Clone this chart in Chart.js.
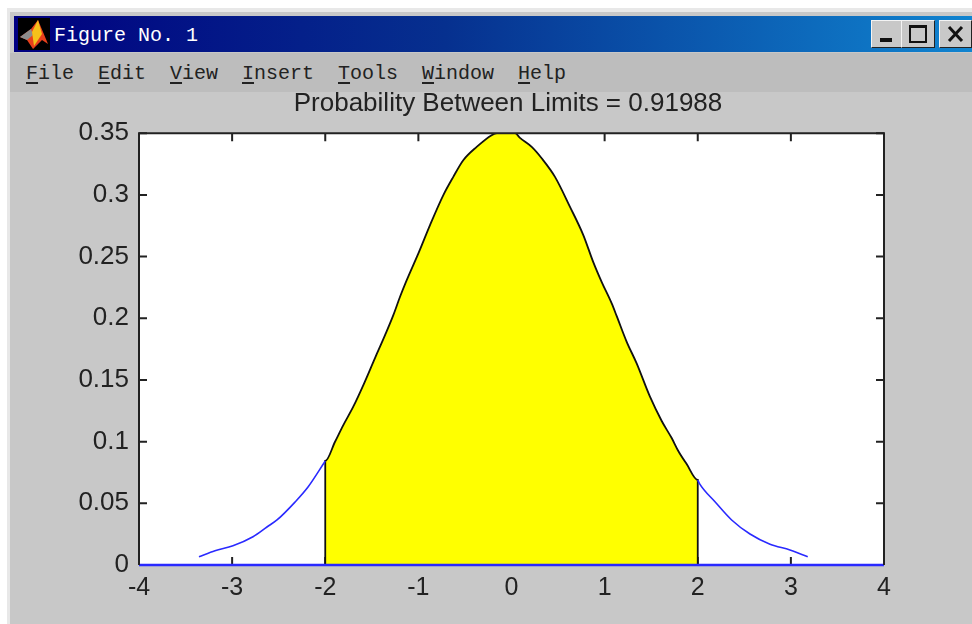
<!DOCTYPE html>
<html>
<head>
<meta charset="utf-8">
<title>Figure No. 1</title>
<script src="https://cdn.jsdelivr.net/npm/chart.js@4"></script>
<style>
html,body{margin:0;padding:0;background:#fff;width:972px;height:624px;overflow:hidden}
#edge{position:absolute;left:7px;top:8px;width:965px;height:616px;background:#e8e8e8}
#win{position:absolute;left:10px;top:12px;width:962px;height:612px;background:#c8c8c8}
#bar{position:absolute;left:14px;top:16px;width:958px;height:36px;background:linear-gradient(90deg,#000080 0%,#06308f 45%,#1084d0 100%)}
#menu{position:absolute;left:10px;top:53px;width:962px;height:39px;background:#bdbdbd}
.mono{font-family:"Liberation Mono",monospace;font-size:20px;white-space:pre;position:absolute}
#ttl{left:54px;top:24px;color:#fff}
.m{top:62px;color:#222}
.m u{text-underline-offset:3px}
#icon{position:absolute;left:18px;top:18px;width:32px;height:32px}
.btn{position:absolute;top:20px;height:26px;background:#c8c8c8;border:1px solid;border-color:#f4f4f4 #222 #222 #f4f4f4}
.btn svg{position:absolute;left:0;top:0}
canvas{position:absolute;left:0;top:0}
#wrap{filter:blur(0.45px);position:absolute;left:0;top:0;width:972px;height:624px}
</style>
</head>
<body>
<div id="wrap">
<div id="edge"></div><div id="win"></div><div id="bar"></div><div id="menu"></div>
<svg id="icon" viewBox="0 0 32 32"><rect width="32" height="32" fill="#000"/>
<polygon points="2,19 13,11 20,2 30,26 24,22 15,31 9,22" fill="#e8401c"/>
<polygon points="2,19 13,11 15,17 9,22" fill="#8c8c8c"/>
<polygon points="14,14 20,2 24,16 16,28" fill="#f6c11a"/></svg>
<div class="mono" id="ttl">Figure No. 1</div>
<div class="mono m" style="left:26px"><u>F</u>ile</div>
<div class="mono m" style="left:98px"><u>E</u>dit</div>
<div class="mono m" style="left:170px"><u>V</u>iew</div>
<div class="mono m" style="left:242px"><u>I</u>nsert</div>
<div class="mono m" style="left:338px"><u>T</u>ools</div>
<div class="mono m" style="left:422px"><u>W</u>indow</div>
<div class="mono m" style="left:518px"><u>H</u>elp</div>
<div class="btn" style="left:871px;width:29px"><svg width="29" height="26"><rect x="8" y="17" width="12" height="4" fill="#111"/></svg></div>
<div class="btn" style="left:901px;width:32px"><svg width="32" height="26"><rect x="8" y="5" width="16" height="16" fill="none" stroke="#111" stroke-width="2"/><rect x="7" y="4" width="18" height="3" fill="#111"/></svg></div>
<div class="btn" style="left:939px;width:31px"><svg width="31" height="26"><path d="M9 6L22 20M22 6L9 20" stroke="#111" stroke-width="3"/></svg></div>
<canvas id="c" width="972" height="624"></canvas>
</div>
<script>
const titleText = "Probability Between Limits = 0.91988";
const xTicks = [-4,-3,-2,-1,0,1,2,3,4];
const yTicks = [0,0.05,0.1,0.15,0.2,0.25,0.3,0.35];
const baseX = [-4,4];
const baseY = [0,0];
const leftTailX = [-3.356,-3.184,-2.991,-2.776,-2.626,-2.518,-2.325,-2.185,-2.0];
const leftTailY = [0.0067,0.0116,0.0156,0.0229,0.0308,0.0365,0.051,0.0632,0.0843];
const rightTailX = [2.0,2.017,2.185,2.364,2.561,2.776,2.99,3.181];
const rightTailY = [0.0689,0.0662,0.0513,0.0365,0.0251,0.0168,0.0122,0.0067];
const midX = [-2.0,-2.0,-1.895,-1.806,-1.699,-1.591,-1.466,-1.358,-1.269,-1.197,-1.133,-0.993,-0.875,-0.732,-0.625,-0.518,-0.374,-0.213,-0.156,-0.07,0.038,0.091,0.217,0.324,0.467,0.628,0.771,0.878,0.969,1.076,1.13,1.237,1.344,1.487,1.613,1.72,1.791,1.881,2.0,2.0];
const midY = [0,0.0843,0.0999,0.1134,0.1283,0.1458,0.1677,0.1863,0.2025,0.2174,0.2295,0.2538,0.2755,0.2998,0.3146,0.3281,0.3389,0.3484,0.35,0.35,0.35,0.3462,0.3389,0.3297,0.3146,0.2903,0.2674,0.2455,0.2293,0.212,0.2017,0.1809,0.1634,0.1364,0.1167,0.1029,0.0924,0.0818,0.0689,0];

const pts = (xs, ys) => xs.map((x,i)=>({x, y:ys[i]}));

const plotBg = {
  id:'plotBg',
  beforeDatasetsDraw(chart){
    const {ctx, chartArea:a, scales:{x,y}} = chart;
    const L = 8;
    ctx.save();
    ctx.fillStyle='#fff';
    ctx.fillRect(a.left,a.top,a.width,a.height);
    ctx.strokeStyle = '#222';
    ctx.lineWidth = 2;
    ctx.beginPath();
    xTicks.forEach(v=>{
      const p = x.getPixelForValue(v);
      ctx.moveTo(p,a.top); ctx.lineTo(p,a.top+L);
      ctx.moveTo(p,a.bottom); ctx.lineTo(p,a.bottom-L);
    });
    yTicks.forEach(v=>{
      const p = y.getPixelForValue(v);
      ctx.moveTo(a.left,p); ctx.lineTo(a.left+L,p);
      ctx.moveTo(a.right,p); ctx.lineTo(a.right-L,p);
    });
    ctx.stroke();
    ctx.restore();
  }
};
const frame = {
  id:'frame',
  afterDatasetsDraw(chart){
    const {ctx, chartArea:a} = chart;
    ctx.save();
    ctx.strokeStyle = '#222';
    ctx.lineWidth = 2;
    ctx.beginPath();
    ctx.moveTo(a.left,a.bottom); ctx.lineTo(a.left,a.top); ctx.lineTo(a.right,a.top); ctx.lineTo(a.right,a.bottom);
    ctx.stroke();
    ctx.restore();
  }
};

new Chart(document.getElementById('c'), {
  type:'scatter',
  data:{datasets:[
    {data:pts(baseX,baseY), showLine:true, borderColor:'#2a2aff', borderWidth:2.5, pointRadius:0, clip:false, order:0},
    {data:pts(midX,midY), showLine:true, borderColor:'#111', borderWidth:1.8, backgroundColor:'#ffff00', fill:'origin', pointRadius:0, cubicInterpolationMode:'monotone', order:2},
    {data:pts(leftTailX,leftTailY), showLine:true, borderColor:'#2a2aff', borderWidth:1.6, pointRadius:0, cubicInterpolationMode:'monotone', order:1},
    {data:pts(rightTailX,rightTailY), showLine:true, borderColor:'#2a2aff', borderWidth:1.6, pointRadius:0, cubicInterpolationMode:'monotone', order:1}
  ]},
  plugins:[plotBg, frame],
  options:{
    responsive:false, animation:false,
    layout:{padding:{left:44,right:0,top:0,bottom:0}},
    plugins:{
      legend:{display:false}, tooltip:{enabled:false},
      title:{display:true, text:titleText, color:'#222', font:{family:'"Liberation Sans"',size:26,weight:'normal'}, padding:{top:88,bottom:14}}
    },
    scales:{
      x:{type:'linear', min:-4, max:4,
        afterBuildTicks:s=>{s.ticks=xTicks.map(v=>({value:v}));},
        afterFit:s=>{s.height=59;},
        grid:{display:false}, border:{display:false},
        ticks:{color:'#222', font:{family:'"Liberation Sans"',size:25}, padding:0, maxRotation:0, autoSkip:false, callback:v=>String(v)}
      },
      y:{type:'linear', min:0, max:0.35,
        afterBuildTicks:s=>{s.ticks=yTicks.map(v=>({value:v}));},
        afterFit:s=>{s.width=95;},
        grid:{display:false}, border:{display:false},
        ticks:{color:'#222', font:{family:'"Liberation Sans"',size:26}, padding:2, autoSkip:false, callback:v=>String(v)}
      },
      yRight:{type:'linear', position:'right', min:0, max:0.35,
        afterFit:s=>{s.width=88;},
        grid:{display:false}, border:{display:false},
        ticks:{display:false}
      }
    }
  }
});
</script>
</body>
</html>
